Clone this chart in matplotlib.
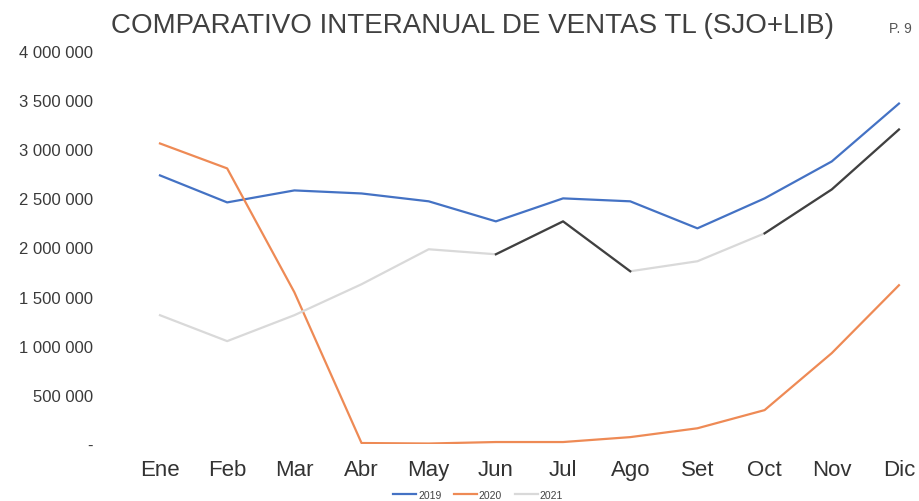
import matplotlib.pyplot as plt
from matplotlib.ticker import FuncFormatter

plt.rcParams['font.family'] = ['Liberation Sans', 'DejaVu Sans']

meses = ["Ene", "Feb", "Mar", "Abr", "May", "Jun", "Jul", "Ago", "Set", "Oct", "Nov", "Dic"]
v2019 = [2734000, 2459000, 2581000, 2550000, 2470000, 2266000, 2500000, 2470000, 2195000, 2500000, 2876000, 3465000]
v2020 = [3059000, 2805000, 1545000, 10000, 5000, 20000, 20000, 70000, 160000, 345000, 925000, 1616000]
v2021 = [1311000, 1047000, 1311000, 1626000, 1982000, 1931000, 2266000, 1758000, 1860000, 2144000, 2591000, 3201000]
# tramos de 2021 que salen oscuros en el escaneo
oscuro_2021 = [(5, 7), (9, 11)]

W, H = 920, 502
fig = plt.figure(figsize=(W / 100, H / 100), dpi=100)
ax = fig.add_axes([126.4 / W, 57 / H, 792.7 / W, 393 / H])

x = list(range(len(meses)))
ax.plot(x, v2019, color="#4472C4", lw=1.6, label="2019")
ax.plot(x, v2020, color="#EE8A55", lw=1.6, label="2020")
ax.plot(x, v2021, color="#D9D9D9", lw=1.6, label="2021")
for a, b in oscuro_2021:
    ax.plot(x[a:b + 1], v2021[a:b + 1], color="#404040", lw=1.6)

ax.set_xlim(-0.5, 11.3)
ax.set_ylim(0, 4000000)
ax.set_yticks(range(0, 4000001, 500000))
ax.yaxis.set_major_formatter(FuncFormatter(
    lambda v, p: "-" if v == 0 else f"{int(v):,}".replace(",", " ")))
ax.set_xticks(x)
ax.set_xticklabels(meses)
ax.tick_params(axis="y", length=0, pad=24, labelsize=12, labelcolor="#3a3a3a")
ax.tick_params(axis="x", length=0, pad=11, labelsize=16, labelcolor="#333333")
for s in ax.spines.values():
    s.set_visible(False)

fig.text(473 / W, 1 - 26 / H, "COMPARATIVO INTERANUAL DE VENTAS TL (SJO+LIB)",
         ha="center", va="center", fontsize=20, color="#404040")
fig.text(912 / W, 1 - 29 / H, "P. 9", ha="right", va="center", fontsize=10,
         color="#555555")

fig.legend(loc="center", bbox_to_anchor=(478 / W, 1 - 496 / H), ncol=3, frameon=False,
           fontsize=7.5, handlelength=2.2, handletextpad=0.2, columnspacing=1.2,
           labelcolor="#444444")

fig.savefig("out.png", dpi=100)
